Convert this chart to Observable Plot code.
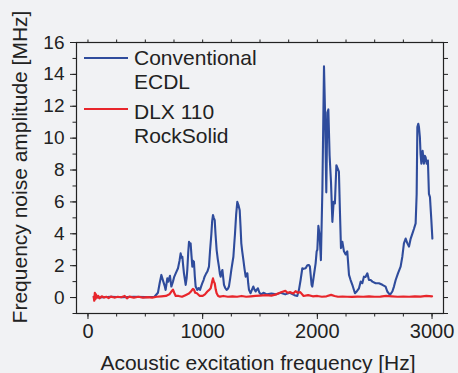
<!DOCTYPE html>
<html>
<head>
<meta charset="utf-8">
<script src="https://cdn.jsdelivr.net/npm/d3@7"></script>
<script src="https://cdn.jsdelivr.net/npm/@observablehq/plot@0.6"></script>
<style>
html, body { margin: 0; padding: 0; background: #f1f2f4; }
#chart { width: 458px; height: 373px; }
</style>
</head>
<body>
<div id="chart"></div>
<script>
// ---- Data ----
const conventionalHz = [50,100,200,300,400,500,580,610,625,640,657,670,677,692,700,715,727,741,752,765,785,798,808,816,823,830,837,852,860,866,874,881,888,895,903,910,917,924,932,939,954,965,977,987,997,1008,1017,1030,1041,1055,1065,1076,1083,1090,1097,1105,1112,1122,1132,1142,1150,1157,1165,1172,1180,1186,1197,1209,1220,1229,1240,1250,1260,1268,1275,1282,1292,1302,1312,1323,1330,1337,1345,1355,1365,1375,1383,1390,1397,1404,1418,1430,1442,1452,1462,1472,1482,1495,1510,1530,1560,1600,1640,1680,1720,1760,1800,1825,1840,1854,1869,1880,1898,1910,1918,1927,1935,1950,1956,1970,1985,1994,2000,2009,2020,2031,2044,2058,2066,2078,2087,2096,2107,2119,2131,2142,2153,2166,2177,2188,2197,2206,2218,2232,2247,2261,2276,2290,2305,2328,2345,2363,2378,2392,2406,2421,2436,2450,2465,2480,2508,2537,2567,2595,2610,2633,2654,2668,2683,2703,2726,2741,2755,2770,2785,2799,2814,2828,2842,2857,2866,2872,2880,2886,2894,2900,2907,2918,2929,2937,2944,2953,2964,2973,2982,2994,3003];
const conventionalMHz = [0.05,0.0,0.05,0.02,0.05,0.03,0.05,0.3,0.9,1.42,1.0,0.7,0.48,1.21,1.0,1.36,0.69,1.0,1.3,1.52,1.84,2.3,2.77,2.5,2.56,2.0,1.52,0.79,1.2,1.73,2.8,3.5,3.3,3.4,2.6,1.94,2.3,2.25,1.3,0.69,0.48,0.6,0.48,0.7,0.9,1.1,1.31,1.5,1.63,1.94,3.0,4.0,4.8,5.17,5.0,4.86,4.0,2.98,2.4,1.94,1.5,1.31,1.6,1.73,1.2,0.79,0.6,0.48,0.55,0.69,1.2,1.73,2.2,2.56,3.3,4.0,5.2,6.0,5.8,5.48,4.5,3.4,2.9,2.36,1.8,1.31,1.5,1.52,0.9,0.48,0.27,0.5,0.69,0.5,0.38,0.5,0.58,0.3,0.2,0.3,0.2,0.25,0.2,0.3,0.2,0.3,0.15,0.1,0.5,1.1,1.84,1.8,1.84,2.0,2.04,2.04,1.94,0.8,0.69,1.4,2.15,2.9,3.0,4.5,3.9,2.35,6.8,14.5,12.0,6.6,11.6,11.8,8.9,7.25,4.75,6.0,5.9,8.3,8.1,7.9,5.4,3.1,3.5,2.9,2.7,2.9,1.42,1.1,0.8,0.27,0.4,0.58,1.0,0.9,1.31,1.3,1.52,1.1,1.1,1.0,0.9,0.9,0.8,0.69,0.38,0.17,0.38,0.69,1.1,1.52,1.94,2.56,3.4,3.7,3.4,3.2,3.7,4.0,4.3,4.65,6.5,10.7,10.9,10.7,10.06,9.0,8.4,9.2,8.4,8.9,8.8,8.4,8.6,6.5,6.3,4.86,3.7];

const rockSolidHz = [50,55,60,65,70,80,90,100,120,140,160,180,200,230,260,290,320,340,360,400,440,480,520,560,600,640,680,710,730,741,752,765,790,820,850,880,900,915,924,935,950,975,1000,1020,1041,1060,1070,1083,1090,1097,1105,1114,1122,1135,1150,1180,1220,1260,1300,1340,1380,1420,1460,1500,1550,1600,1640,1663,1690,1721,1740,1764,1790,1810,1830,1851,1880,1920,1960,2000,2040,2080,2120,2150,2180,2220,2260,2300,2350,2400,2450,2500,2550,2600,2650,2700,2750,2800,2850,2900,2950,3000];
const rockSolidMHz = [0.05,-0.2,0.3,-0.1,0.2,0.0,0.1,-0.05,0.08,0.0,0.05,-0.03,0.06,0.0,0.05,0.02,0.1,-0.05,0.06,0.0,0.05,0.0,0.03,0.0,0.05,0.08,0.1,0.2,0.4,0.5,0.3,0.1,0.1,0.05,0.15,0.25,0.4,0.55,0.5,0.3,0.27,0.1,0.1,0.2,0.38,0.5,0.58,1.0,1.2,1.0,0.9,0.5,0.27,0.1,0.06,0.1,0.05,0.08,0.05,0.1,0.05,0.08,0.1,0.12,0.15,0.12,0.2,0.27,0.35,0.42,0.3,0.34,0.25,0.4,0.3,0.34,0.1,0.15,0.08,0.1,0.05,0.08,0.17,0.1,0.05,0.06,0.05,0.04,0.06,0.05,0.08,0.05,0.06,0.1,0.08,0.05,0.06,0.05,0.08,0.06,0.1,0.08];

const seriesNames = ["Conventional ECDL", "DLX 110 RockSolid"];
const legendLines = [["Conventional", "ECDL"], ["DLX 110", "RockSolid"]];
const seriesColors = ["#2f4c9c", "#e8262b"];
const xMajorTicks = [0, 1000, 2000, 3000];
const xMinorTicks = [0, 250, 500, 750, 1000, 1250, 1500, 1750, 2000, 2250, 2500, 2750, 3000];
const yMajorTicks = [0, 2, 4, 6, 8, 10, 12, 14, 16];
const yMinorTicks = [-1, 0, 1, 2, 3, 4, 5, 6, 7, 8, 9, 10, 11, 12, 13, 14, 15, 16];
const xLabel = "Acoustic excitation frequency [Hz]";
const yLabel = "Frequency noise amplitude [MHz]";

// ---- Build tables ----
const conventional = conventionalHz.map((hz, i) => ({hz, mhz: conventionalMHz[i], series: seriesNames[0]}));
const rockSolid = rockSolidHz.map((hz, i) => ({hz, mhz: rockSolidMHz[i], series: seriesNames[1]}));

const ink = "#222";
const fontStack = "'Liberation Sans', Arial, Helvetica, sans-serif";

function legend(index, scales, values, dims) {
  const g = d3.create("svg:g")
    .attr("font-family", fontStack)
    .attr("font-size", 21)
    .attr("text-anchor", "start")
    .attr("fill", ink);
  const left = dims.marginLeft;
  const top = dims.marginTop;
  const blocks = [
    {lineY: 16, base: 23},
    {lineY: 67, base: 77}
  ];
  legendLines.forEach((lines, i) => {
    const b = blocks[i];
    g.append("line")
      .attr("x1", left + 8).attr("x2", left + 52)
      .attr("y1", top + b.lineY).attr("y2", top + b.lineY)
      .attr("stroke", seriesColors[i]).attr("stroke-width", 2);
    lines.forEach((t, j) => {
      g.append("text")
        .attr("x", left + 58)
        .attr("y", top + b.base + j * 24)
        .attr("text-anchor", "start")
        .text(t);
    });
  });
  return g.node();
}

const chart = Plot.plot({
  width: 458,
  height: 373,
  marginLeft: 76,
  marginRight: 15,
  marginTop: 42,
  marginBottom: 60,
  style: {
    background: "#f1f2f4",
    fontFamily: fontStack,
    color: ink
  },
  x: {domain: [-100, 3100]},
  y: {domain: [-1, 16]},
  marks: [
    Plot.line(conventional, {x: "hz", y: "mhz", stroke: seriesColors[0], strokeWidth: 2.1, strokeLinejoin: "round"}),
    Plot.line(rockSolid, {x: "hz", y: "mhz", stroke: seriesColors[1], strokeWidth: 2.2, strokeLinejoin: "round"}),
    Plot.frame({stroke: ink, strokeWidth: 1.2}),
    Plot.axisX({anchor: "bottom", ticks: xMajorTicks, tickSize: 6, tickPadding: 4, fontSize: 20, label: null, tickFormat: d => String(d), stroke: ink, fill: ink}),
    Plot.axisX({anchor: "bottom", ticks: xMinorTicks, tickSize: 3.5, label: null, tickFormat: () => "", stroke: ink}),
    Plot.axisX({anchor: "top", ticks: xMinorTicks, tickSize: 3.5, label: null, tickFormat: () => "", stroke: ink}),
    Plot.axisY({anchor: "left", ticks: yMajorTicks, tickSize: 6, tickPadding: 6, fontSize: 19, label: null, tickFormat: d => String(d), stroke: ink, fill: ink}),
    Plot.axisY({anchor: "left", ticks: yMinorTicks, tickSize: 3.5, label: null, tickFormat: () => "", stroke: ink}),
    Plot.axisY({anchor: "right", ticks: yMinorTicks, tickSize: 4, label: null, tickFormat: () => "", stroke: ink}),
    Plot.text([xLabel], {frameAnchor: "bottom", text: d => d, fontSize: 21, textAnchor: "middle", lineAnchor: "middle", dy: 50, dx: -2, fill: ink}),
    Plot.text([yLabel], {frameAnchor: "left", text: d => d, rotate: -90, fontSize: 21, textAnchor: "middle", lineAnchor: "middle", dx: -56, dy: -11, fill: ink}),
    legend
  ]
});

document.getElementById("chart").appendChild(chart);
</script>
</body>
</html>
